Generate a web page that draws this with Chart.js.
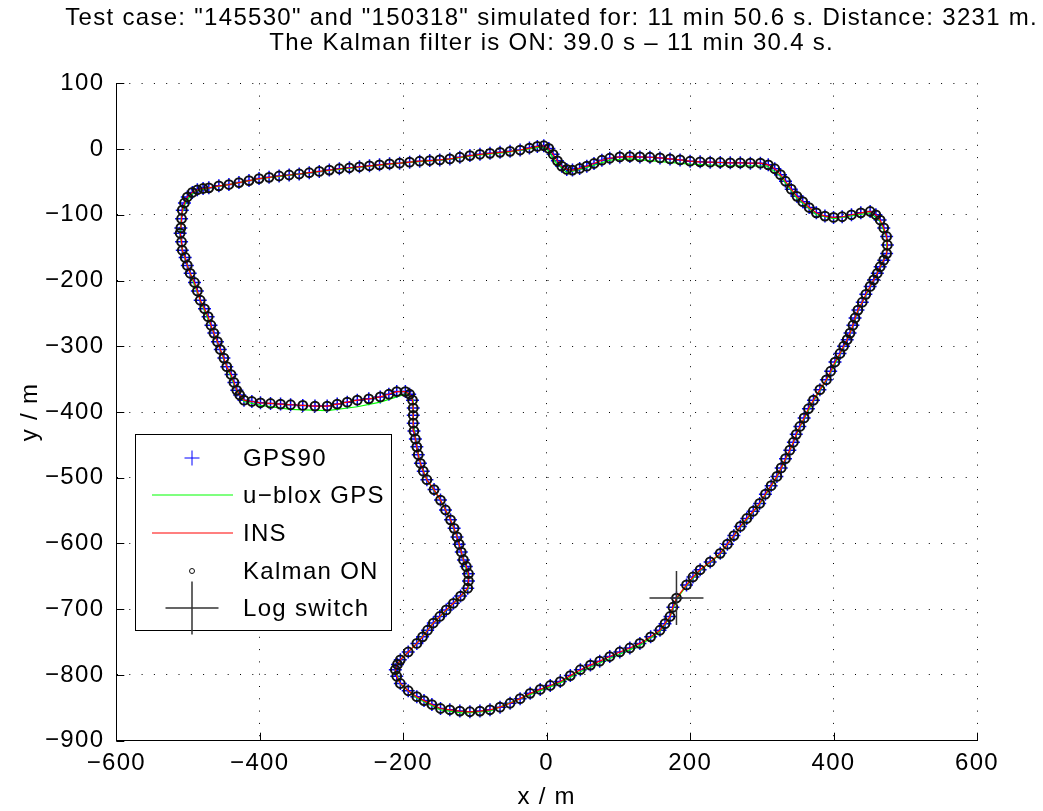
<!DOCTYPE html>
<html>
<head>
<meta charset="utf-8">
<title>Test case 145530 / 150318</title>
<script src="https://cdn.jsdelivr.net/npm/chart.js@4.4.1/dist/chart.umd.min.js"></script>
<style>
  html, body { margin: 0; padding: 0; background: #fff; }
  #wrap { width: 1043px; height: 811px; }
</style>
</head>
<body>
<div id="wrap"><canvas id="c" width="1043" height="811"></canvas></div>
<script>
// Track around the loop (m), shared by GPS90 fixes, INS solution and Kalman-ON markers
const trackX = [-510,-509,-508,-505,-501,-494,-487,-479,-471,-457,-443,-429,-415,-401,-387,-373,-359,-345,-331,-317,
  -303,-289,-275,-261,-247,-233,-219,-205,-191,-177,-163,-149,-135,-121,-107,-93,-79,-65,-51,-37,
  -24,-13,-4,3,9,15,21,28,36,46,56,66,77,88,102,116,130,144,158,172,
  186,200,214,228,242,256,270,284,298,309,318,326,333,341,349,357,366,376,388,400,
  412,425,438,451,459,465,470,474,475,474,470,465,461,456,451,445,440,434,430,427,
  423,419,414,409,402,396,390,381,372,365,359,353,348,344,339,333,327,321,313,305,
  297,288,279,270,261,252,242,228,214,204,195,181,176,172,165,158,145,130,116,102,
  88,74,61,47,33,19,5,-9,-23,-37,-51,-65,-79,-93,-107,-121,-135,-148,-160,-171,
  -181,-193,-204,-209,-211,-208,-204,-193,-181,-173,-166,-158,-149,-140,-130,-120,-110,-109,-109,-112,
  -116,-119,-122,-125,-129,-134,-141,-148,-157,-167,-172,-176,-179,-181,-183,-185,-186,-186,-186,-187,
  -191,-197,-209,-220,-232,-248,-264,-278,-292,-306,-323,-340,-357,-371,-385,-399,-411,-422,-428,-432,
  -436,-440,-446,-450,-455,-459,-464,-468,-472,-477,-483,-487,-491,-497,-501,-504,-508,-509,-511];
const trackY = [-120,-106,-93,-82,-73,-66,-62,-60,-59,-56,-54,-51,-48,-45,-43,-41,-39.5,-38,-36,-34,
  -32,-30,-28.5,-27,-25.5,-24,-22.5,-21.5,-20,-18.5,-17.5,-16.5,-15,-12.5,-10,-8,-6.5,-5,-3.5,-1.5,
  1.5,4,5,1,-8,-18,-26,-31,-32,-29.5,-26,-22,-17,-14,-12,-11.5,-12,-12.5,-13.5,-15,
  -16.5,-18.5,-19.5,-20,-20.5,-21,-21,-21.5,-21.5,-24,-30,-39,-49,-61,-72,-80,-89,-97,-102,-104,
  -103,-100,-97,-95,-100,-108,-120,-133,-146,-159,-169,-179,-189,-199,-209,-221,-233,-245,-257,-268,
  -280,-290,-300,-311,-324,-338,-351,-366,-382,-395,-409,-422,-434,-446,-458,-471,-485,-498,-512,-525,
  -539,-551,-562,-574,-588,-601,-615,-628,-640,-651,-663,-683,-697,-711,-722,-732,-742,-752,-759,-765,
  -772,-779,-785,-792,-801,-810,-816,-822,-828,-836,-843,-849,-853,-855,-856,-855,-853,-851,-845,-839,
  -833,-824,-813,-802,-792,-784,-777,-765,-752,-742,-732,-721,-711,-701,-691,-680,-668,-657,-646,-635,
  -625,-613,-601,-590,-577,-564,-549,-534,-518,-503,-490,-478,-465,-453,-441,-429,-417,-405,-394,-382,
  -373,-369,-369,-373,-377,-380,-382,-385,-388,-391,-391,-390,-389,-388,-387,-386,-384,-382,-374,-367,
  -355,-343,-331,-318,-305,-293,-280,-268,-255,-243,-230,-216,-203,-189,-177,-165,-154,-141,-128];

// u-blox receiver track (m)
const ubloxX = [-511,-509,-503,-490,-470,-443,-399,-360,-281,-200,-139,-102,-55,-9,0,14,28,51,88,116,
  200,246,307,325,349,376,400,451,465,474,474,465,451,434,423,409,390,372,353,339,
  321,297,270,242,214,195,181,172,158,130,88,47,19,-23,-79,-116,-148,-181,-204,-211,
  -204,-181,-158,-130,-109,-109,-116,-125,-134,-148,-167,-176,-181,-186,-186,-195,-232,-264,-306,-357,
  -399,-422,-432,-446,-464,-483,-497,-508,-511];
const ubloxY = [-128,-100,-80,-64,-59,-54,-45,-40,-30,-21,-16,-10,-5,3,1,-22,-36,-30,-17,-15,
  -23,-25,-26,-40,-75,-100,-106,-97,-110,-135,-159,-180,-210,-246,-281,-312,-352,-383,-423,-459,
  -499,-540,-575,-616,-641,-664,-685,-712,-734,-755,-775,-795,-812,-830,-855,-858,-853,-835,-814,-792,
  -777,-752,-721,-691,-668,-650,-625,-590,-564,-534,-503,-478,-453,-417,-382,-372,-385,-392,-398,-396,
  -390,-384,-368,-331,-280,-230,-189,-154,-128];

// Position where the log file switches (m)
const switchX = [181];
const switchY = [-683];

const xTickValues = [-600, -400, -200, 0, 200, 400, 600];
const xTickLabels = ['\u2212600', '\u2212400', '\u2212200', '0', '200', '400', '600'];
const yTickValues = [100, 0, -100, -200, -300, -400, -500, -600, -700, -800, -900];
const yTickLabels = ['100', '0', '\u2212100', '\u2212200', '\u2212300', '\u2212400', '\u2212500',
  '\u2212600', '\u2212700', '\u2212800', '\u2212900'];

const titleLines = [
  'Test case: "145530" and "150318" simulated for: 11 min 50.6 s. Distance: 3231 m.',
  'The Kalman filter is ON: 39.0 s \u2013 11 min 30.4 s.'
];

const FONT = "'Liberation Sans', Arial, Helvetica, sans-serif";
const SPACING = '1.3px';

const pts = (xs, ys) => xs.map((x, i) => ({ x: x, y: ys[i] }));

// Helvetica-like text is set a little wider than Liberation Sans
const spacingPlugin = {
  id: 'spacing',
  beforeUpdate(chart) { chart.ctx.letterSpacing = SPACING; },
  beforeDraw(chart) { chart.ctx.letterSpacing = SPACING; }
};

// Two-line title centred over the axes
const titleBlock = {
  id: 'titleBlock',
  afterDraw(chart) {
    const { ctx, chartArea: a } = chart;
    const cx = (a.left + a.right) / 2 + 5;
    ctx.save();
    ctx.letterSpacing = SPACING;
    ctx.fillStyle = '#000';
    ctx.font = '24px ' + FONT;
    ctx.textAlign = 'center';
    ctx.textBaseline = 'middle';
    titleLines.forEach((t, i) => ctx.fillText(t, cx, 18 + i * 25));
    ctx.restore();
  }
};

// Short inward tick marks on the left and bottom axes
const innerTicks = {
  id: 'innerTicks',
  afterDraw(chart) {
    const { ctx, chartArea: a, scales } = chart;
    ctx.save();
    ctx.strokeStyle = '#000';
    ctx.lineWidth = 1;
    ctx.beginPath();
    scales.x.ticks.forEach(t => {
      const px = Math.round(scales.x.getPixelForValue(t.value)) + 0.5;
      ctx.moveTo(px, a.bottom);
      ctx.lineTo(px, a.bottom - 8);
    });
    scales.y.ticks.forEach(t => {
      const py = Math.round(scales.y.getPixelForValue(t.value)) + 0.5;
      ctx.moveTo(a.left, py);
      ctx.lineTo(a.left + 8, py);
    });
    ctx.stroke();
    ctx.restore();
  }
};

// Boxed legend inside the axes, lower left
const boxLegend = {
  id: 'boxLegend',
  afterDraw(chart) {
    const ctx = chart.ctx;
    const ds = chart.data.datasets;
    const bx = 135.5, by = 434.5, bw = 256, bh = 196;
    const rowY = [458, 495, 533, 571, 608];
    const sx = 192, lx0 = 152, lx1 = 233, tx = 243;
    ctx.save();
    ctx.letterSpacing = SPACING;
    ctx.fillStyle = '#fff';
    ctx.fillRect(bx, by, bw, bh);
    ctx.strokeStyle = '#000';
    ctx.lineWidth = 1;
    ctx.strokeRect(bx, by, bw, bh);
    ds.forEach((d, i) => {
      const y = rowY[i];
      ctx.strokeStyle = d.borderColor;
      ctx.lineWidth = d.legendWidth || d.borderWidth;
      ctx.beginPath();
      if (d.legendKind === 'line') {
        ctx.moveTo(lx0, y); ctx.lineTo(lx1, y);
      } else if (d.pointStyle === 'cross') {
        const r = d.legendRadius;
        ctx.moveTo(sx - r, y); ctx.lineTo(sx + r, y);
        ctx.moveTo(sx, y - r); ctx.lineTo(sx, y + r);
      } else {
        ctx.arc(sx, y, d.legendRadius, 0, Math.PI * 2);
      }
      ctx.stroke();
      ctx.fillStyle = '#000';
      ctx.font = '24px ' + FONT;
      ctx.textAlign = 'left';
      ctx.textBaseline = 'middle';
      ctx.fillText(d.label, tx, y + 1);
    });
    ctx.restore();
  }
};

new Chart(document.getElementById('c'), {
  type: 'scatter',
  data: {
    datasets: [
      {
        label: 'GPS90', data: pts(trackX, trackY), order: 4,
        pointStyle: 'cross', pointRadius: 6.5, borderColor: '#0000ff', backgroundColor: '#0000ff',
        borderWidth: 1.5, legendRadius: 7.5, legendWidth: 1, showLine: false
      },
      {
        label: 'u\u2212blox GPS', data: pts(ubloxX, ubloxY), order: 3, legendKind: 'line',
        showLine: true, borderColor: '#00ff00', borderWidth: 1.2, pointRadius: 0, fill: false, tension: 0
      },
      {
        label: 'INS', data: pts(trackX, trackY), order: 2, legendKind: 'line',
        showLine: true, borderColor: '#ff0000', borderWidth: 1.2, pointRadius: 0, fill: false, tension: 0
      },
      {
        label: 'Kalman ON', data: pts(trackX, trackY), order: 1,
        pointStyle: 'circle', pointRadius: 4.4, borderColor: '#111', backgroundColor: 'rgba(0,0,0,0)',
        borderWidth: 2, legendRadius: 2.5, legendWidth: 1, showLine: false
      },
      {
        label: 'Log switch', data: pts(switchX, switchY), order: 0,
        pointStyle: 'cross', pointRadius: 27, borderColor: '#333', backgroundColor: '#333',
        borderWidth: 1.5, legendRadius: 26.5, showLine: false
      }
    ]
  },
  options: {
    responsive: false,
    animation: false,
    devicePixelRatio: 1,
    events: [],
    layout: { padding: { left: 0, right: 66, top: 83.3, bottom: 0 } },
    plugins: {
      legend: { display: false },
      tooltip: { enabled: false },
      title: { display: false }
    },
    scales: {
      x: {
        type: 'linear', position: 'bottom', min: -600, max: 600,
        afterBuildTicks: s => { s.ticks = xTickValues.map(v => ({ value: v })); },
        afterFit: s => { s.height = 70.3; },
        ticks: {
          color: '#000', padding: 8, maxRotation: 0, autoSkip: false,
          font: { family: FONT, size: 24 },
          callback: v => xTickLabels[xTickValues.indexOf(v)]
        },
        grid: { color: '#000', lineWidth: 1, drawTicks: false },
        border: { display: true, color: '#000', width: 1, dash: [1, 11.3] },
        title: {
          display: true, text: 'x / m', color: '#000',
          font: { family: FONT, size: 24, lineHeight: 1.1 }, padding: { top: 0, bottom: 0 }
        }
      },
      y: {
        type: 'linear', position: 'left', min: -900, max: 100,
        afterBuildTicks: s => { s.ticks = yTickValues.map(v => ({ value: v })); },
        afterFit: s => { s.width = 116.3; },
        ticks: {
          color: '#000', padding: 12, autoSkip: false,
          font: { family: FONT, size: 24 },
          callback: v => yTickLabels[yTickValues.indexOf(v)]
        },
        grid: { color: '#000', lineWidth: 1, drawTicks: false },
        border: { display: true, color: '#000', width: 1, dash: [1, 11.3] },
        title: {
          display: true, text: 'y / m', color: '#000',
          font: { family: FONT, size: 24, lineHeight: 1.1 }, padding: { top: 17, bottom: 0 }
        }
      }
    }
  },
  plugins: [spacingPlugin, titleBlock, innerTicks, boxLegend]
});
</script>
</body>
</html>
